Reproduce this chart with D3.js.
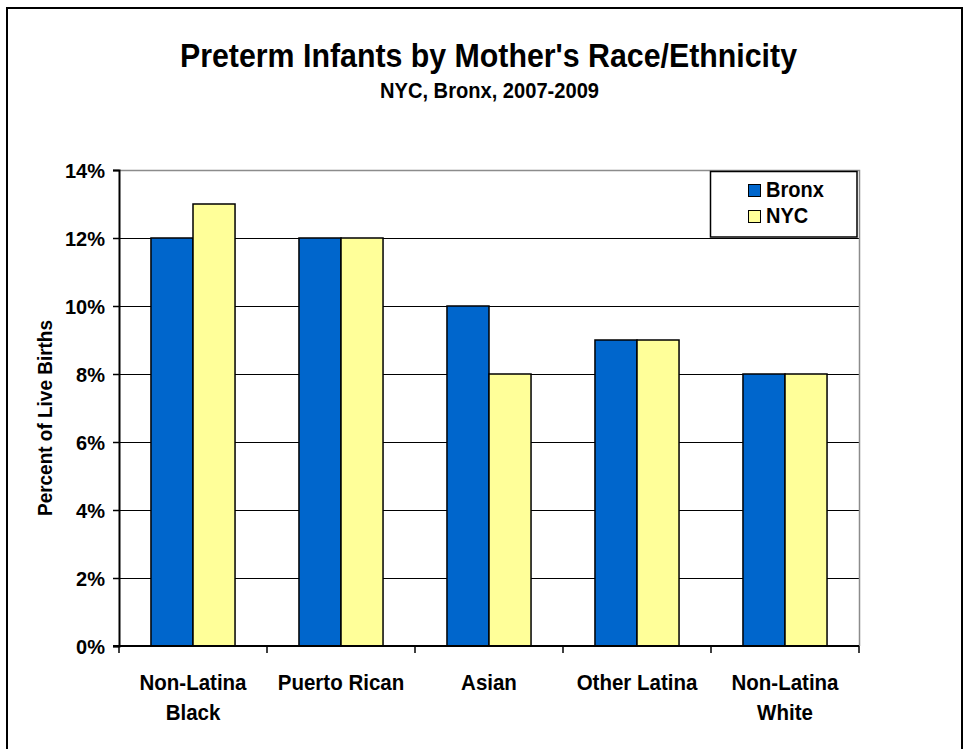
<!DOCTYPE html>
<html>
<head>
<meta charset="utf-8">
<script src="https://cdn.jsdelivr.net/npm/d3@7"></script>
<style>
  html, body { margin: 0; padding: 0; background: #fff; }
  text { font-family: "Liberation Sans", Arial, sans-serif; font-weight: bold; fill: #000; }
</style>
</head>
<body>
<svg id="chart" width="964" height="749"></svg>
<script>
// ---- data ----
const categories = ["Non-Latina Black", "Puerto Rican", "Asian", "Other Latina", "Non-Latina White"];
const categoryLines = [["Non-Latina", "Black"], ["Puerto Rican"], ["Asian"], ["Other Latina"], ["Non-Latina", "White"]];
const seriesNames = ["Bronx", "NYC"];
const bronxValues = [12, 12, 10, 9, 8];
const nycValues = [13, 12, 8, 9, 8];
const yTickValues = [0, 2, 4, 6, 8, 10, 12, 14];
const yTickLabels = ["0%", "2%", "4%", "6%", "8%", "10%", "12%", "14%"];
const titleText = "Preterm Infants by Mother's Race/Ethnicity";
const subtitleText = "NYC, Bronx, 2007-2009";
const yAxisTitle = "Percent of Live Births";

const colors = { Bronx: "#0066CC", NYC: "#FFFF99" };
const seriesValues = { Bronx: bronxValues, NYC: nycValues };

const svg = d3.select("#chart");

// outer frame
svg.append("rect").attr("x", 7).attr("y", 8).attr("width", 955).attr("height", 760)
  .attr("fill", "none").attr("stroke", "#000").attr("stroke-width", 2);

// plot geometry
const plot = { left: 119, right: 859, top: 170, bottom: 646 };

const x0 = d3.scaleBand().domain(categories).range([plot.left, plot.right]).paddingInner(0).paddingOuter(0);
const bw = x0.bandwidth();
const x1 = d3.scaleBand().domain(seriesNames).range([bw * 0.216, bw - bw * 0.216]).padding(0);
const y = d3.scaleLinear().domain([0, 14]).range([plot.bottom, plot.top]);

// gridlines
svg.append("g").selectAll("line").data(yTickValues.filter(v => v > 0 && v < 14)).join("line")
  .attr("x1", plot.left).attr("x2", plot.right)
  .attr("y1", d => Math.round(y(d)) + 0.5).attr("y2", d => Math.round(y(d)) + 0.5)
  .attr("stroke", "#000").attr("stroke-width", 1);

// plot border top & right (gray)
svg.append("path")
  .attr("d", `M${plot.left},${Math.round(y(14)) + 0.5}H${plot.right + 0.5}V${plot.bottom}`)
  .attr("fill", "none").attr("stroke", "#8c8c8c").attr("stroke-width", 1.5);

// bars
const groups = svg.append("g").selectAll("g").data(categories).join("g")
  .attr("transform", d => `translate(${x0(d)},0)`);
groups.selectAll("rect")
  .data((d, i) => seriesNames.map(s => ({ s, v: seriesValues[s][i] })))
  .join("rect")
  .attr("x", d => x1(d.s))
  .attr("width", x1.bandwidth())
  .attr("y", d => y(d.v))
  .attr("height", d => y(0) - y(d.v))
  .attr("fill", d => colors[d.s])
  .attr("stroke", "#000").attr("stroke-width", 1.5);

// helper: make text a bit taller while keeping its natural width
function condense(sel, baseSize, bigSize) {
  sel.each(function () {
    const t = d3.select(this);
    t.attr("font-size", baseSize);
    const w = this.getComputedTextLength();
    t.attr("font-size", bigSize).attr("textLength", w).attr("lengthAdjust", "spacingAndGlyphs");
  });
}

// y axis
const yAxis = d3.axisLeft(y).tickValues(yTickValues).tickFormat((d, i) => yTickLabels[i]).tickSize(6).tickPadding(8);
const gy = svg.append("g").attr("transform", `translate(${plot.left},0)`).call(yAxis);
gy.select(".domain").attr("stroke", "#000").attr("stroke-width", 2);
gy.selectAll(".tick line").attr("stroke", "#000").attr("stroke-width", 1.5);
gy.selectAll(".tick text").attr("font-family", "Liberation Sans, Arial, sans-serif")
  .attr("font-weight", "bold").attr("fill", "#000").attr("dy", "0.36em");
condense(gy.selectAll(".tick text"), 20, 21);

// x axis
const xAxis = d3.axisBottom(x0).tickSize(0).tickFormat("");
const gx = svg.append("g").attr("transform", `translate(0,${plot.bottom})`).call(xAxis);
gx.select(".domain").attr("stroke", "#000").attr("stroke-width", 2).attr("d", `M${plot.left - 6},0H${plot.right}`);
gx.selectAll(".tick").remove();
const boundaries = categories.map(c => x0(c)).concat([plot.right]);
gx.selectAll("line.bt").data(boundaries).join("line").attr("class", "bt")
  .attr("x1", d => d).attr("x2", d => d).attr("y1", 0).attr("y2", 7)
  .attr("stroke", "#000").attr("stroke-width", 1.5);

// category labels (one text per line)
const labG = svg.append("g");
categories.forEach((c, i) => {
  categoryLines[i].forEach((line, j) => {
    labG.append("text").attr("x", x0(c) + bw / 2).attr("y", 690 + j * 30)
      .attr("text-anchor", "middle").text(line);
  });
});
condense(labG.selectAll("text"), 20.5, 22);

// titles
svg.append("text").attr("x", 488.5).attr("y", 67).attr("text-anchor", "middle")
  .attr("font-size", 33).attr("textLength", 617).attr("lengthAdjust", "spacingAndGlyphs").text(titleText);
svg.append("text").attr("x", 489.5).attr("y", 98).attr("text-anchor", "middle")
  .attr("font-size", 21.5).attr("textLength", 219).attr("lengthAdjust", "spacingAndGlyphs").text(subtitleText);

// y-axis title
svg.append("text").attr("transform", "translate(52,418) rotate(-90)")
  .attr("text-anchor", "middle").attr("font-size", 20)
  .attr("textLength", 196).attr("lengthAdjust", "spacingAndGlyphs").text(yAxisTitle);

// legend
const lg = svg.append("g");
lg.append("rect").attr("x", 710.5).attr("y", 171.5).attr("width", 146.5).attr("height", 65.5)
  .attr("fill", "#fff").attr("stroke", "#000").attr("stroke-width", 1.5);
const items = lg.selectAll("g").data(seriesNames).join("g")
  .attr("transform", (d, i) => `translate(748.5,${184.5 + i * 26})`);
items.append("rect").attr("width", 12).attr("height", 12)
  .attr("fill", d => colors[d]).attr("stroke", "#000").attr("stroke-width", 1);
const legText = items.append("text").attr("x", 17.5).attr("y", 12.5).text(d => d);
condense(legText, 20, 21.5);
</script>
</body>
</html>
